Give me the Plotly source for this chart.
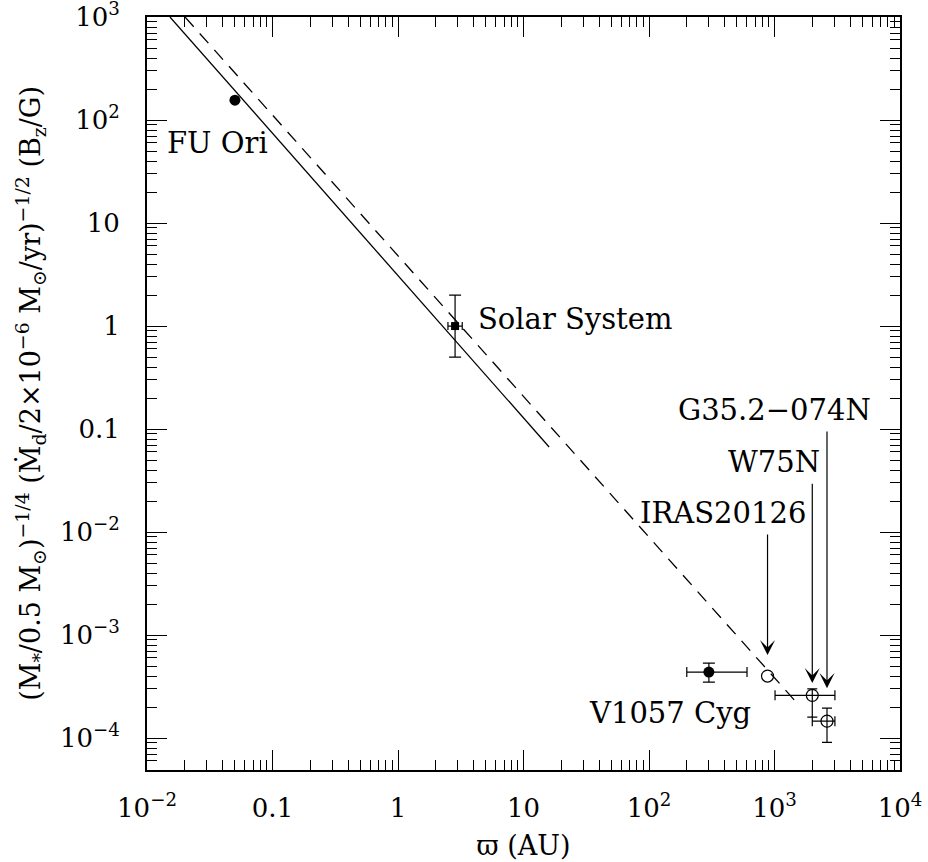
import numpy as np
import plotly.graph_objects as go

# ---- data ----
fu_x = [0.0502]; fu_y = [156.0]
sol_x = [2.85]; sol_y = [1.0]
sol_xerr_minus = [0.35]; sol_xerr_plus = [0.40]
sol_yerr_minus = [0.5]; sol_yerr_plus = [1.0]

v1057_x = [300.0]; v1057_y = [4.37e-4]
v1057_xerr_minus = [100.0]; v1057_xerr_plus = [304.0]
v1057_yerr_minus = [0.87e-4]; v1057_yerr_plus = [0.98e-4]

iras_x = [880.0]; iras_y = [4.0e-4]

w75_x = [2000.0]; w75_y = [2.6e-4]
w75_xerr_minus = [990.0]; w75_xerr_plus = [1030.0]
w75_yerr_minus = [1.0e-4]; w75_yerr_plus = [0.4e-4]

g35_x = [2620.0]; g35_y = [1.46e-4]
g35_xerr_minus = [620.0]; g35_xerr_plus = [410.0]
g35_yerr_minus = [0.55e-4]; g35_yerr_plus = [0.49e-4]

solid_x = [0.01524, 16.0]; solid_y = [1000.0, 0.067]
dashed_x = [0.0201, 1510.0]; dashed_y = [1000.0, 2.19e-4]

arrow_x = [880.0, 2000.0, 2620.0]
arrow_y_start = [9.8e-3, 3.05e-2, 9.8e-2]
arrow_y_tip = [6.4e-4, 3.42e-4, 3.05e-4]

xtick_vals = [1e-2, 1e-1, 1, 10, 1e2, 1e3, 1e4]
xtick_text = ["10<sup>−2</sup>", "0.1", "1", "10", "10<sup>2</sup>", "10<sup>3</sup>", "10<sup>4</sup>"]
ytick_vals = [1e-4, 1e-3, 1e-2, 1e-1, 1, 10, 1e2, 1e3]
ytick_text = ["10<sup>−4</sup>", "10<sup>−3</sup>", "10<sup>−2</sup>", "0.1", "1", "10", "10<sup>2</sup>", "10<sup>3</sup>"]

FONT = "DejaVu Serif"
BLACK = "black"

def minor_vals(lo, hi):
    out = []
    for e in range(lo, hi):
        for k in range(2, 10):
            out.append(k * 10.0 ** e)
    return out

fig = go.Figure()

fig.add_trace(go.Scatter(x=solid_x, y=solid_y, mode="lines",
                         line=dict(color=BLACK, width=1.3), showlegend=False))
fig.add_trace(go.Scatter(x=dashed_x, y=dashed_y, mode="lines",
                         line=dict(color=BLACK, width=1.3, dash="13px,9px"), showlegend=False))

fig.add_trace(go.Scatter(x=fu_x, y=fu_y, mode="markers",
                         marker=dict(symbol="circle", size=11, color=BLACK), showlegend=False))

fig.add_trace(go.Scatter(x=sol_x, y=sol_y, mode="markers",
                         marker=dict(symbol="square", size=8, color=BLACK),
                         error_x=dict(type="data", symmetric=False, array=sol_xerr_plus,
                                      arrayminus=sol_xerr_minus, color=BLACK, thickness=1.2, width=4),
                         error_y=dict(type="data", symmetric=False, array=sol_yerr_plus,
                                      arrayminus=sol_yerr_minus, color=BLACK, thickness=1.2, width=6),
                         showlegend=False))

fig.add_trace(go.Scatter(x=v1057_x, y=v1057_y, mode="markers",
                         marker=dict(symbol="circle", size=11, color=BLACK),
                         error_x=dict(type="data", symmetric=False, array=v1057_xerr_plus,
                                      arrayminus=v1057_xerr_minus, color=BLACK, thickness=1.2, width=5),
                         error_y=dict(type="data", symmetric=False, array=v1057_yerr_plus,
                                      arrayminus=v1057_yerr_minus, color=BLACK, thickness=1.2, width=6),
                         showlegend=False))

fig.add_trace(go.Scatter(x=iras_x, y=iras_y, mode="markers",
                         marker=dict(symbol="circle-open", size=12, color=BLACK, line=dict(width=1.2)),
                         showlegend=False))

for xs, ys, exp, exm, eyp, eym in [
    (w75_x, w75_y, w75_xerr_plus, w75_xerr_minus, w75_yerr_plus, w75_yerr_minus),
    (g35_x, g35_y, g35_xerr_plus, g35_xerr_minus, g35_yerr_plus, g35_yerr_minus),
]:
    fig.add_trace(go.Scatter(x=xs, y=ys, mode="markers",
                             marker=dict(symbol="circle-open", size=12, color=BLACK, line=dict(width=1.2)),
                             error_x=dict(type="data", symmetric=False, array=exp, arrayminus=exm,
                                          color=BLACK, thickness=1.2, width=5),
                             error_y=dict(type="data", symmetric=False, array=eyp, arrayminus=eym,
                                          color=BLACK, thickness=1.2, width=5),
                             showlegend=False))

lg = np.log10
annotations = []
for xv, y0, y1 in zip(arrow_x, arrow_y_start, arrow_y_tip):
    annotations.append(dict(x=lg(xv), y=lg(y1), ax=lg(xv), ay=lg(y0), xref="x", yref="y",
                            axref="x", ayref="y", text="", showarrow=True, arrowhead=3,
                            arrowsize=2.1, arrowwidth=1.2, arrowcolor=BLACK, standoff=0))

LABEL_SIZE = 29
labels = [
    ("FU Ori", 0.0139, 59.8, "left"),
    ("Solar System", 4.18, 1.17, "left"),
    ("V1057 Cyg", 32.1, 1.75e-4, "left"),
    ("IRAS20126", 1849, 0.0153, "right"),
    ("W75N", 2388, 0.0479, "right"),
    ("G35.2−074N", 6097, 0.153, "right"),
]
for t, xv, yv, anc in labels:
    annotations.append(dict(x=lg(xv), y=lg(yv), xref="x", yref="y", text=t, showarrow=False,
                            xanchor=anc, yanchor="middle",
                            font=dict(family=FONT, size=LABEL_SIZE, color=BLACK)))

ytitle = ("(M<sub>*</sub>/0.5 M<sub>⊙</sub>)<sup>−1/4</sup> "
          "(Ṁ<sub>d</sub>/2×10<sup>−6</sup> M<sub>⊙</sub>/yr)<sup>−1/2</sup> "
          "(B<sub>z</sub>/G)")
annotations.append(dict(x=-0.155, y=0.5, xref="paper", yref="paper", text=ytitle,
                        textangle=-90, showarrow=False, xanchor="center", yanchor="middle",
                        font=dict(family=FONT, size=27, color=BLACK)))

axis_common = dict(
    type="log", showgrid=False, zeroline=False, automargin=False,
    showline=True, linecolor=BLACK, linewidth=2, mirror="ticks",
    ticks="inside", ticklen=20, tickwidth=1.3, tickcolor=BLACK,
    tickfont=dict(family=FONT, size=26, color=BLACK),
    ticklabeloverflow="allow",
)

fig.update_layout(
    width=928, height=862,
    margin=dict(l=147, r=28, t=17, b=92, autoexpand=False),
    paper_bgcolor="white", plot_bgcolor="white",
    xaxis=dict(**axis_common, range=[-2, 4], tickvals=xtick_vals, ticktext=xtick_text,
               ticklabelstandoff=14,
               minor=dict(tickvals=minor_vals(-2, 4), ticks="inside", ticklen=10,
                          tickwidth=1.3, tickcolor=BLACK),
               title=dict(text="ϖ (AU)", font=dict(family=FONT, size=27, color=BLACK), standoff=14)),
    yaxis=dict(**axis_common, range=[-4.31, 3.0004], tickvals=ytick_vals, ticktext=ytick_text,
               ticklabelstandoff=20,
               minor=dict(tickvals=minor_vals(-5, 3), ticks="inside", ticklen=10,
                          tickwidth=1.3, tickcolor=BLACK)),
    annotations=annotations,
)

fig.write_html("out.html", config={"displayModeBar": False},
               post_script="document.body.style.margin='0px';document.body.style.overflow='hidden';")
